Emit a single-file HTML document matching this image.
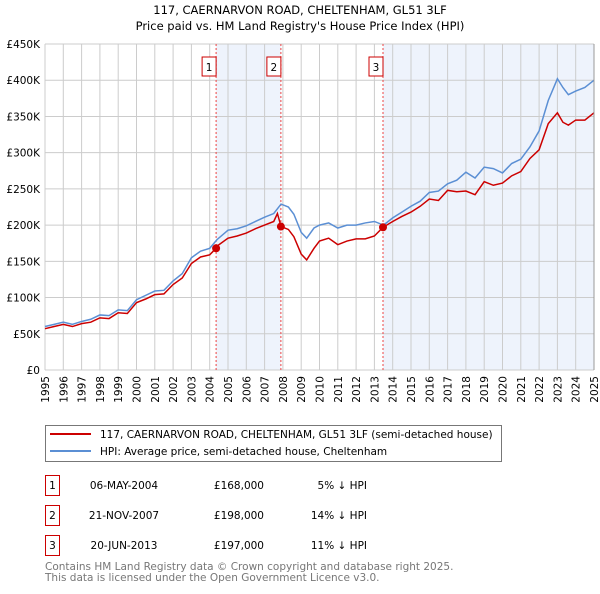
<!DOCTYPE html>
<html><head><meta charset="utf-8"><style>
body{margin:0;background:#fff;font-family:"DejaVu Sans","Liberation Sans",sans-serif;}
svg text{font-family:"DejaVu Sans","Liberation Sans",sans-serif;}
</style></head><body>
<svg width="600" height="590" xmlns="http://www.w3.org/2000/svg">
<g id="chart"></g>
</svg>
<script>
const yearTicks=[1995,1996,1997,1998,1999,2000,2001,2002,2003,2004,2005,2006,2007,2008,2009,2010,2011,2012,2013,2014,2015,2016,2017,2018,2019,2020,2021,2022,2023,2024,2025];
const valueTicks=[0,50,100,150,200,250,300,350,400,450];
const valueTickLabels=["£0","£50K","£100K","£150K","£200K","£250K","£300K","£350K","£400K","£450K"];
const hpiYears=[1995,1995.5,1996,1996.5,1997,1997.5,1998,1998.5,1999,1999.5,2000,2000.5,2001,2001.5,2002,2002.5,2003,2003.5,2004,2004.4,2005,2005.5,2006,2006.5,2007,2007.5,2007.9,2008.3,2008.6,2009,2009.3,2009.7,2010,2010.5,2011,2011.5,2012,2012.5,2013,2013.5,2014,2014.5,2015,2015.5,2016,2016.5,2017,2017.5,2018,2018.5,2019,2019.5,2020,2020.5,2021,2021.5,2022,2022.5,2023,2023.3,2023.6,2024,2024.5,2025];
const hpiValues=[60,63,66,63,67,70,76,75,83,82,97,103,109,110,123,133,155,164,168,180,193,195,199,205,211,216,229,225,215,190,182,196,200,203,196,200,200,203,205,200,210,218,226,233,245,247,257,262,273,265,280,278,272,285,291,308,330,372,402,390,380,385,390,400];
const saleYears=[1995,1995.5,1996,1996.5,1997,1997.5,1998,1998.5,1999,1999.5,2000,2000.5,2001,2001.5,2002,2002.5,2003,2003.5,2004,2004.35,2004.4,2005,2005.5,2006,2006.5,2007,2007.5,2007.7,2007.9,2008.3,2008.6,2009,2009.3,2009.7,2010,2010.5,2011,2011.5,2012,2012.5,2013,2013.47,2014,2014.5,2015,2015.5,2016,2016.5,2017,2017.5,2018,2018.5,2019,2019.5,2020,2020.5,2021,2021.5,2022,2022.5,2023,2023.3,2023.6,2024,2024.5,2025];
const saleValues=[57,60,63,60,64,66,72,71,79,78,93,98,104,105,118,127,147,156,159,168,171,182,185,189,195,200,205,216,198,194,184,160,152,168,178,182,173,178,181,181,185,197,205,212,218,226,236,234,248,246,247,242,260,255,258,268,274,292,304,340,355,342,338,345,345,355];
const saleMarkers=[{n:"1",x:2004.35,v:168},{n:"2",x:2007.89,v:198},{n:"3",x:2013.47,v:197}];

const NS="http://www.w3.org/2000/svg";
const g=document.getElementById('chart');
const X0=45,X1=594,Y0=370,Y1=44;
const FS="10.5";
const xs=y=>X0+(y-1995)/(2025-1995)*(X1-X0);
const ys=v=>Y0-v/450*(Y0-Y1);
function el(t,a,p){const e=document.createElementNS(NS,t);for(const k in a)e.setAttribute(k,a[k]);(p||g).appendChild(e);return e;}
function txt(s,a){const e=el('text',a);e.textContent=s;return e;}

let t=txt("117, CAERNARVON ROAD, CHELTENHAM, GL51 3LF",{x:300,y:14,"text-anchor":"middle","font-size":"11.5"});

t=txt("Price paid vs. HM Land Registry's House Price Index (HPI)",{x:300,y:30,"text-anchor":"middle","font-size":"11.5"});


let r=el('rect',{x:xs(2004.35),y:Y1,width:xs(2007.89)-xs(2004.35),height:Y0-Y1,fill:"#eef3fc"});

r=el('rect',{x:xs(2013.47),y:Y1,width:X1-xs(2013.47),height:Y0-Y1,fill:"#eef3fc"});


yearTicks.forEach(y=>{
 const l=el('line',{x1:xs(y),x2:xs(y),y1:Y1,y2:Y0,stroke:"#cccccc","stroke-width":1});
 
 const px=xs(y)+4,py=Y0+6;
 const tt=txt(String(y),{x:px,y:py,"text-anchor":"end","font-size":FS,transform:"rotate(-90 "+px+" "+py+")"});
 
});
valueTicks.forEach((v,i)=>{
 const l=el('line',{x1:X0,x2:X1,y1:ys(v),y2:ys(v),stroke:"#cccccc","stroke-width":1});
 
 const tt=txt(valueTickLabels[i],{x:X0-5,y:ys(v)+4,"text-anchor":"end","font-size":FS});
 
});

saleMarkers.forEach(m=>{
 const l=el('line',{x1:xs(m.x),x2:xs(m.x),y1:Y1,y2:Y0,stroke:"#ee4444","stroke-width":1,"stroke-dasharray":"2,2"});
 
 const b=el('rect',{x:xs(m.x)-14,y:57,width:14,height:19,fill:"#fff",stroke:"#cc0000"});
 
 const tt=txt(m.n,{x:xs(m.x)-7,y:71,"text-anchor":"middle","font-size":FS});
 
});

const hp=el('polyline',{points:hpiYears.map((y,i)=>xs(y)+","+ys(hpiValues[i])).join(" "),fill:"none",stroke:"#5b8fd4","stroke-width":1.5});

const sp=el('polyline',{points:saleYears.map((y,i)=>xs(y)+","+ys(saleValues[i])).join(" "),fill:"none",stroke:"#cc0000","stroke-width":1.5});

saleMarkers.forEach(m=>{
 const c=el('circle',{cx:xs(m.x),cy:ys(m.v),r:4,fill:"#cc0000"});
 
});
el('line',{x1:X1,x2:X1,y1:Y1,y2:Y0,stroke:"#999","stroke-width":1});

// legend
const lg=el('rect',{x:45.5,y:425.5,width:456,height:36,fill:"#fff",stroke:"#777"});

el('line',{x1:50,x2:91,y1:434,y2:434,stroke:"#cc0000","stroke-width":2});
t=txt("117, CAERNARVON ROAD, CHELTENHAM, GL51 3LF (semi-detached house)",{x:100,y:438,"font-size":FS});

el('line',{x1:50,x2:91,y1:451,y2:451,stroke:"#5b8fd4","stroke-width":2});
t=txt("HPI: Average price, semi-detached house, Cheltenham",{x:100,y:455,"font-size":FS});


const rows=[["1","06-MAY-2004","£168,000","5% ↓ HPI"],["2","21-NOV-2007","£198,000","14% ↓ HPI"],["3","20-JUN-2013","£197,000","11% ↓ HPI"]];
rows.forEach((rw,i)=>{
 const y=475+i*30;
 const b=el('rect',{x:45.5,y:y+0.5,width:14,height:20,fill:"#fff",stroke:"#cc0000"});
 
 t=txt(rw[0],{x:52.5,y:y+14,"text-anchor":"middle","font-size":FS});
 t=txt(rw[1],{x:124,y:y+14,"text-anchor":"middle","font-size":FS});
 t=txt(rw[2],{x:264,y:y+14,"text-anchor":"end","font-size":FS});
 t=txt(rw[3],{x:367,y:y+14,"text-anchor":"end","font-size":FS});
});
t=txt("Contains HM Land Registry data © Crown copyright and database right 2025.",{x:45,y:570,"font-size":FS,fill:"#777"});

t=txt("This data is licensed under the Open Government Licence v3.0.",{x:45,y:581,"font-size":FS,fill:"#777"});

</script>
</body></html>
